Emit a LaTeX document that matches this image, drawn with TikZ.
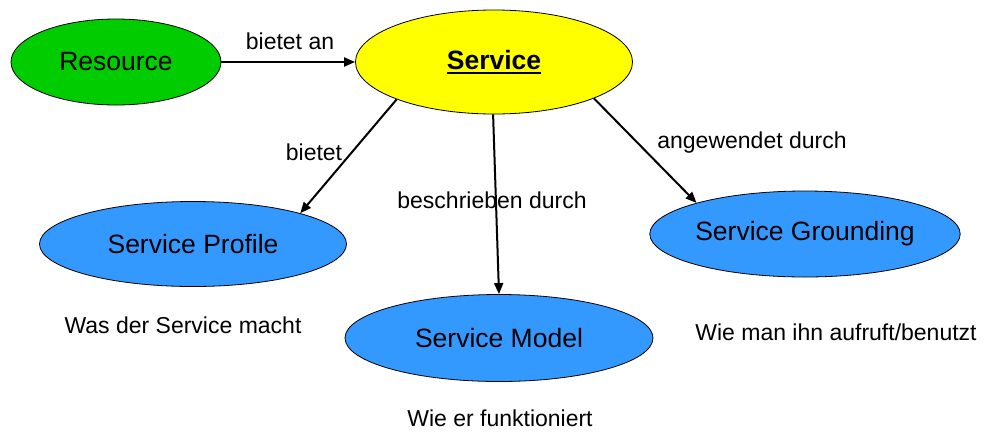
\documentclass[tikz,border=0pt]{standalone}
\usepackage{fontspec}
\setmainfont{Liberation Sans}
\usetikzlibrary{shapes.geometric,arrows.meta}
\definecolor{resgreen}{RGB}{0,204,0}
\definecolor{servyellow}{RGB}{255,255,0}
\definecolor{partblue}{RGB}{51,153,255}
\newcommand\myul[1]{\setbox0\hbox{#1}\rlap{\rule[-5pt]{\wd0}{2pt}}\box0}
\tikzset{
  oval/.style={ellipse, draw=black, line width=0.8pt, inner sep=0pt,
    font=\fontsize{26.5}{30}\selectfont},
  rel/.style={line width=2pt, -{Triangle[length=11pt,width=9pt]}},
  lbl/.style={font=\fontsize{23}{26}\selectfont, inner sep=0pt},
}
\begin{document}
\begin{tikzpicture}[x=1pt,y=-1pt]
\useasboundingbox (0,0) rectangle (985,432);
\node[oval, fill=resgreen, minimum width=210pt, minimum height=86pt] (resource) at (116,62) {\raisebox{-2pt}{Resource}};
\node[oval, fill=servyellow, minimum width=277pt, minimum height=104pt] (service) at (494,62) {\raisebox{-2pt}{\bfseries\myul{Service}}};
\node[oval, fill=partblue, minimum width=307pt, minimum height=85pt] (profile) at (193,244) {Service Profile};
\node[oval, fill=partblue, minimum width=308pt, minimum height=87pt] (model) at (499,338) {Service Model};
\node[oval, fill=partblue, minimum width=306pt, minimum height=86pt] (grounding) at (805,234) {Service Grounding};

\draw[rel] (resource.east) -- (service.west);
\draw[rel] (service.201) -- (profile.16);
\draw[rel] (service.269) -- (model.90);
\draw[rel] (service.340) -- (grounding.164);

\node[lbl] (l1) at (290,41) {bietet an};
\node[lbl] (l2) at (314,152) {bietet};
\node[lbl] (l3) at (492,200) {beschrieben durch};
\node[lbl] (l4) at (752,143) {angewendet durch};
\node[lbl] (l5) at (183,325) {Was der Service macht};
\node[lbl] (l6) at (500,418) {Wie er funktioniert};
\node[lbl] (l7) at (836,332) {Wie man ihn aufruft/benutzt};
\end{tikzpicture}
\end{document}
